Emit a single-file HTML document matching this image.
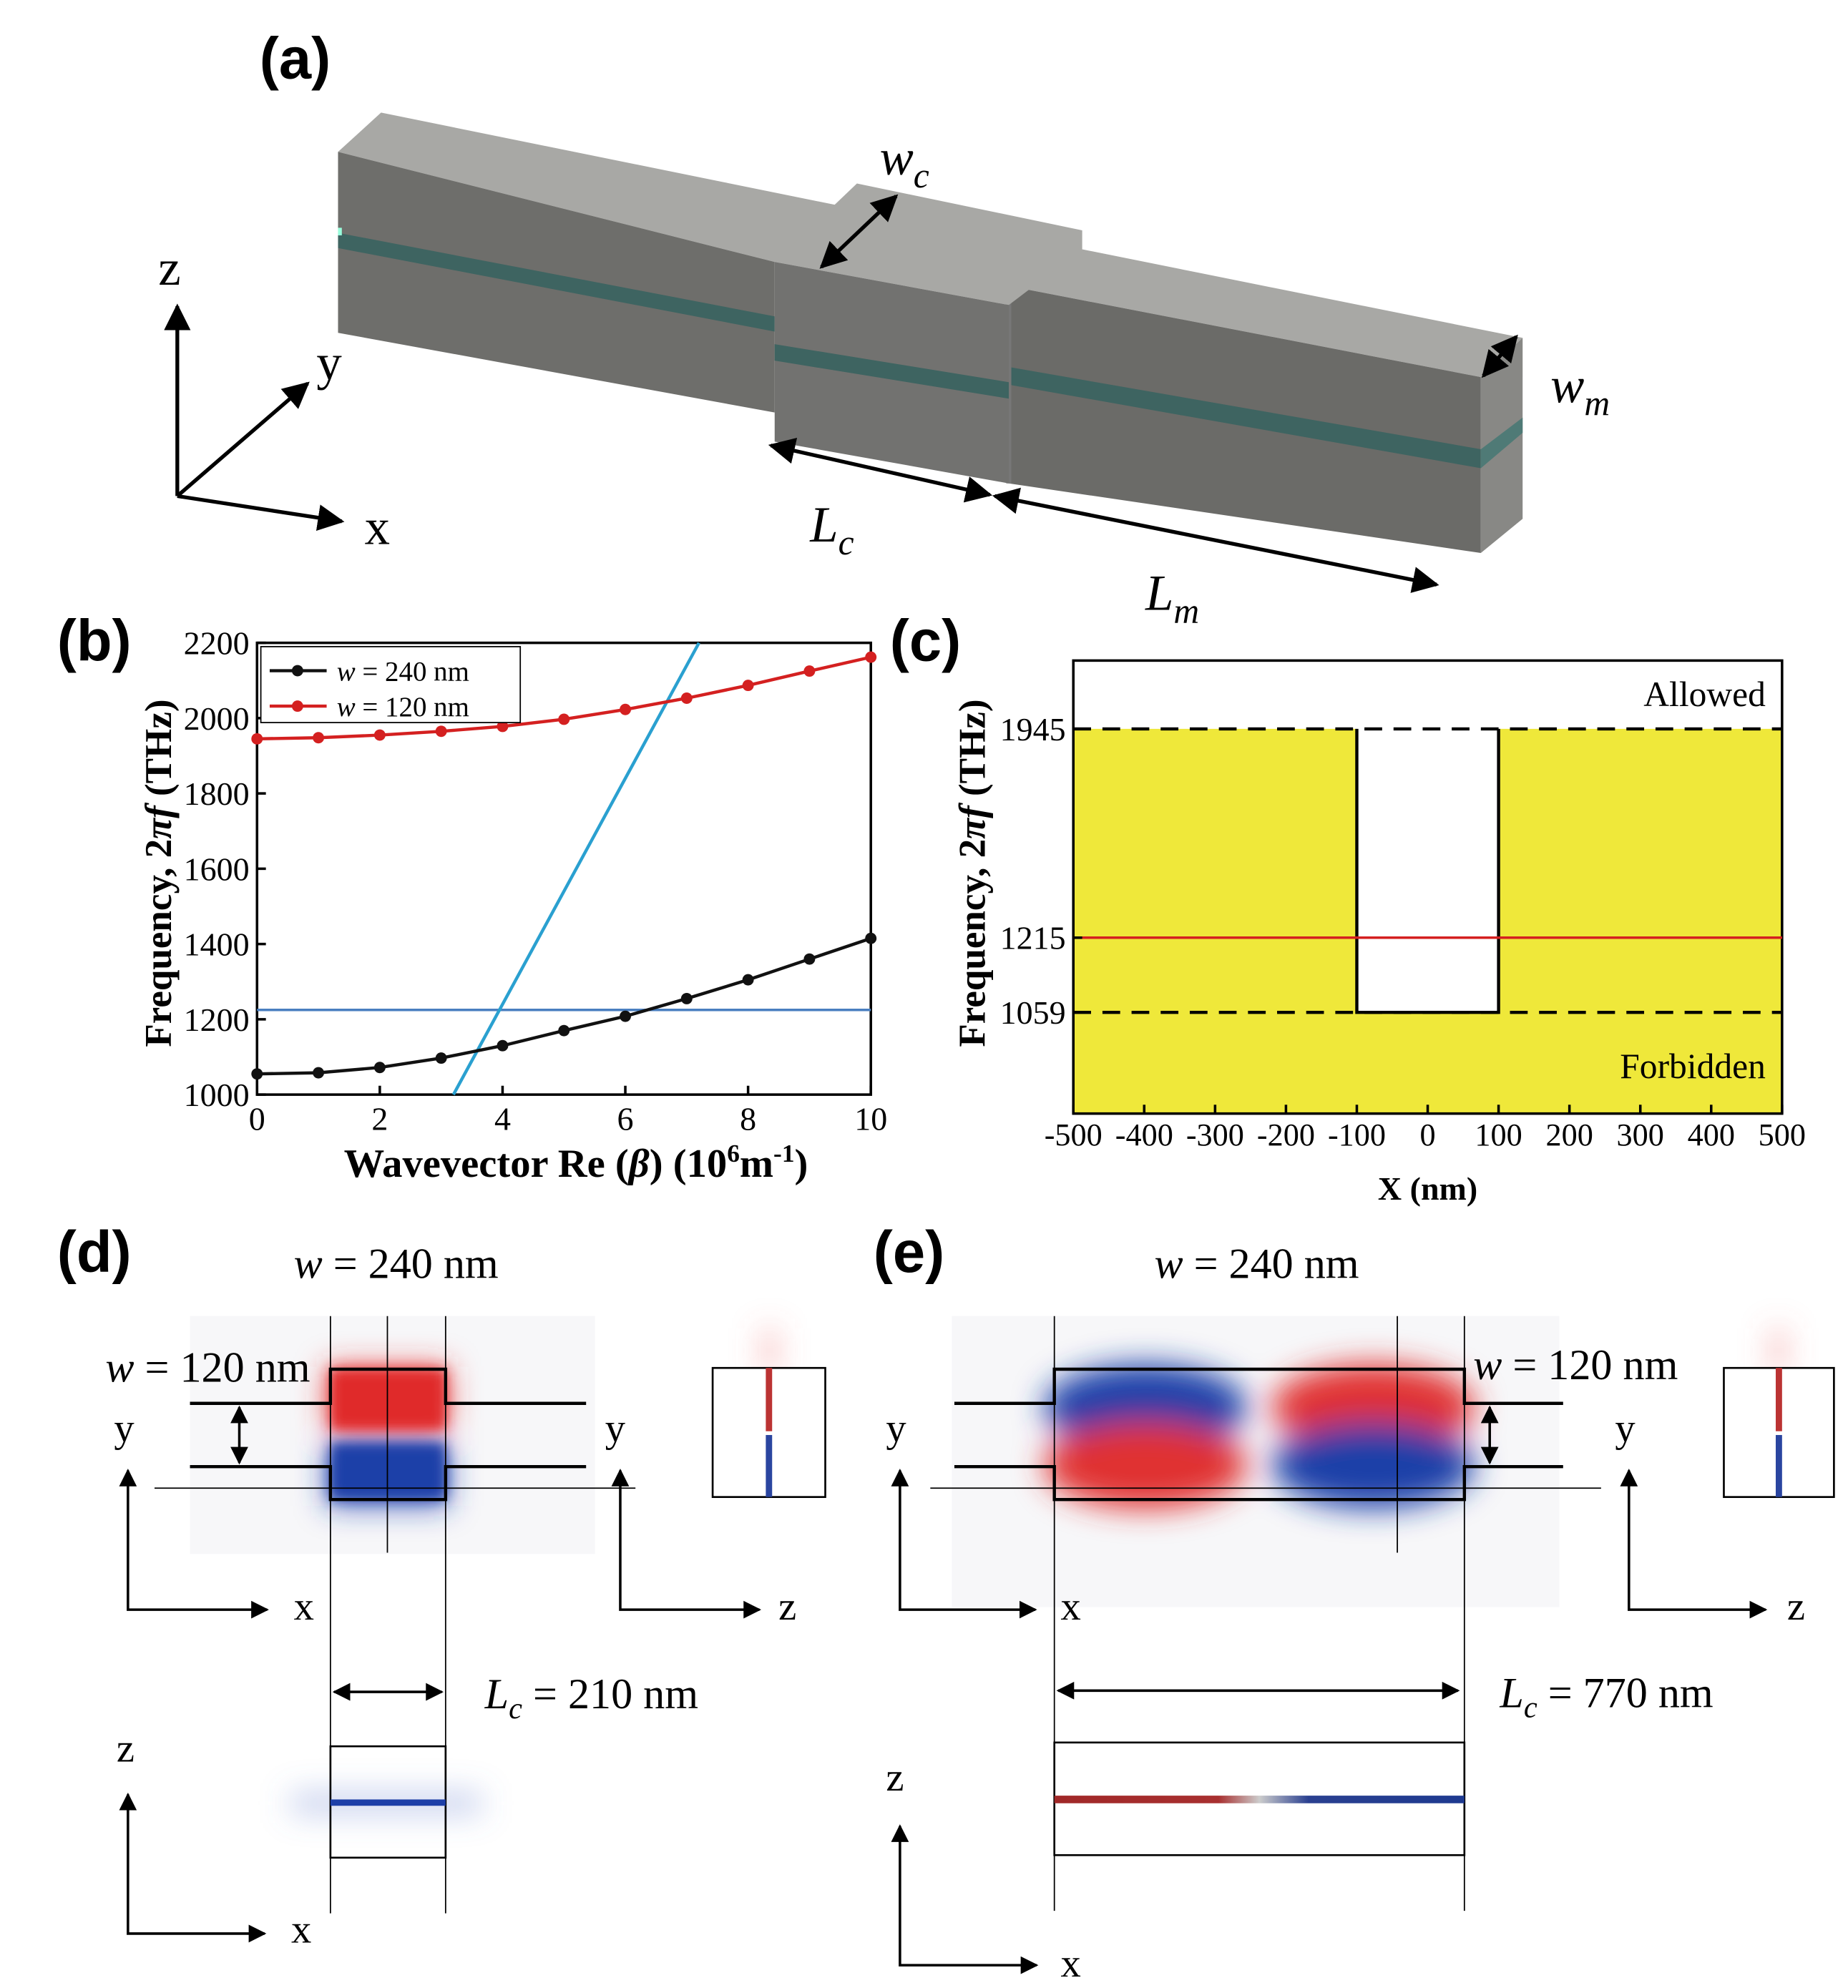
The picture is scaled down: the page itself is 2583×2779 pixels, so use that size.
<!DOCTYPE html>
<html><head><meta charset="utf-8"><style>
html,body{margin:0;padding:0;background:#fff}
svg{display:block}
text{font-family:"Liberation Serif",serif}
.b{font-family:"Liberation Sans",sans-serif;font-weight:bold}
</style></head><body>
<svg id="s" width="2583" height="2779" viewBox="0 0 1460 1571" xmlns="http://www.w3.org/2000/svg">
<defs>
<filter id="bl" x="-50%" y="-50%" width="200%" height="200%"><feGaussianBlur stdDeviation="12"/></filter>
<filter id="bl2" x="-50%" y="-50%" width="200%" height="200%"><feGaussianBlur stdDeviation="5"/></filter>
<marker id="ah" viewBox="0 0 10 10" refX="9" refY="5" markerWidth="7" markerHeight="7" orient="auto-start-reverse"><path d="M0,0L10,5L0,10z" fill="#000"/></marker>
<linearGradient id="rb" x1="0" x2="1"><stop offset="0" stop-color="#a02828"/><stop offset="0.4" stop-color="#a83030"/><stop offset="0.5" stop-color="#ccc"/><stop offset="0.62" stop-color="#2a4090"/><stop offset="1" stop-color="#1e3a90"/></linearGradient>
</defs>

<!-- Panel a -->
<g>
<text x="205" y="62" class="b" font-size="46">(a)</text>
<g>
<polygon points="267,120 301,89 690,168 612,207" fill="#a8a8a5"/>
<polygon points="267,120 612,207 612,326 267,263" fill="#6e6e6b"/>
<polygon points="267,184 612,250 612,262 267,196" fill="#3e6461"/>
<polygon points="267,180 270,180 270,186 267,186" fill="#9fd"/>
</g>
<g>
<polygon points="797,226 855,197 1203,267 1170,298" fill="#a8a8a5"/>
<polygon points="797,226 1170,298 1170,437 797,382" fill="#6b6b68"/>
<polygon points="797,290 1170,355 1170,370 797,304" fill="#3e6461"/>
<polygon points="1170,298 1203,267 1203,410 1170,437" fill="#888885"/>
<polygon points="1170,355 1203,330 1203,342 1170,370" fill="#4f7a76"/>
<line x1="797" y1="226" x2="797" y2="382" stroke="#777" stroke-width="4"/>
</g>
<g>
<polygon points="612,207 677,145 855,182 855,197 797,241" fill="#a8a8a5"/>
<polygon points="612,207 797,241 797,382 612,349" fill="#727270"/>
<polygon points="612,272 797,302 797,315 612,285" fill="#3e6461"/>
</g>
<g stroke="#000" stroke-width="3" fill="none">
<line x1="140" y1="392" x2="140" y2="242" marker-end="url(#ah)"/>
<line x1="140" y1="392" x2="270" y2="412" marker-end="url(#ah)"/>
<line x1="140" y1="392" x2="243" y2="303" marker-end="url(#ah)"/>
<line x1="649" y1="211" x2="708" y2="155" marker-end="url(#ah)" marker-start="url(#ah)"/>
<line x1="1172" y1="297" x2="1198" y2="266" marker-end="url(#ah)" marker-start="url(#ah)"/>
<line x1="609" y1="352" x2="782" y2="391" marker-end="url(#ah)" marker-start="url(#ah)"/>
<line x1="786" y1="392" x2="1135" y2="462" marker-end="url(#ah)" marker-start="url(#ah)"/>
</g>
<text x="125" y="225" font-size="40">z</text>
<text x="250" y="300" font-size="40">y</text>
<text x="288" y="430" font-size="40">x</text>
<text x="695" y="138" font-size="40" font-style="italic">w<tspan font-size="28" dy="10">c</tspan></text>
<text x="1225" y="318" font-size="40" font-style="italic">w<tspan font-size="28" dy="10">m</tspan></text>
<text x="640" y="428" font-size="40" font-style="italic">L<tspan font-size="28" dy="10">c</tspan></text>
<text x="905" y="482" font-size="40" font-style="italic">L<tspan font-size="28" dy="10">m</tspan></text>
</g>

<g id="pb"></g>
<g id="pc"></g>

<!-- Panel d -->
<g>
<text x="45" y="1005" class="b" font-size="46">(d)</text>
<text x="232" y="1010" font-size="34"><tspan font-style="italic">w</tspan> = 240 nm</text>
<rect x="150" y="1040" width="320" height="188" fill="#f7f7f9"/>
<g filter="url(#bl)">
<rect x="258" y="1080" width="96" height="48" fill="#e83030" opacity="0.8"/>
<rect x="258" y="1142" width="96" height="48" fill="#2040b0" opacity="0.8"/>
<rect x="603" y="1050" width="10" height="35" fill="#e66" opacity="0.5"/>
<rect x="230" y="1417" width="150" height="16" fill="#6a80d0" opacity="0.4"/>
</g>
<rect x="261" y="1082" width="91" height="48" fill="#e02a2a" filter="url(#bl2)"/>
<rect x="261" y="1140" width="91" height="45" fill="#1e3fa8" filter="url(#bl2)"/>
<g stroke="#000" fill="none" stroke-width="2.5">
<polyline points="150,1109 261,1109 261,1082 352,1082 352,1109 463,1109"/>
<polyline points="150,1159 261,1159 261,1185 352,1185 352,1159 463,1159"/>
</g>
<g stroke="#000" stroke-width="1">
<line x1="261" y1="1040" x2="261" y2="1512"/><line x1="352" y1="1040" x2="352" y2="1512"/>
<line x1="306" y1="1040" x2="306" y2="1227"/><line x1="122" y1="1176" x2="502" y2="1176"/>
</g>
<line x1="189" y1="1112" x2="189" y2="1156" stroke="#000" stroke-width="2" marker-start="url(#ah)" marker-end="url(#ah)"/>
<text x="245" y="1092" font-size="34" text-anchor="end"><tspan font-style="italic">w</tspan> = 120 nm</text>
<rect x="563" y="1081" width="89" height="102" fill="#fff" stroke="#000" stroke-width="1.5"/>
<rect x="605" y="1081" width="5" height="50" fill="#b33"/><rect x="605" y="1134" width="5" height="49" fill="#2a45a0"/>
<g stroke="#000" stroke-width="2" fill="none">
<polyline points="101,1162 101,1272 211,1272" marker-start="url(#ah)" marker-end="url(#ah)"/>
<polyline points="490,1162 490,1272 600,1272" marker-start="url(#ah)" marker-end="url(#ah)"/>
<polyline points="101,1418 101,1528 209,1528" marker-start="url(#ah)" marker-end="url(#ah)"/>
<line x1="264" y1="1337" x2="349" y2="1337" marker-start="url(#ah)" marker-end="url(#ah)"/>
</g>
<text x="90" y="1139" font-size="32">y</text><text x="232" y="1280" font-size="32">x</text>
<text x="478" y="1139" font-size="32">y</text><text x="615" y="1280" font-size="32">z</text>
<text x="92" y="1392" font-size="32">z</text><text x="230" y="1535" font-size="32">x</text>
<text x="383" y="1350" font-size="34"><tspan font-style="italic">L<tspan font-size="24" dy="8">c</tspan></tspan><tspan dy="-8"> = 210 nm</tspan></text>
<rect x="261" y="1380" width="91" height="88" fill="none" stroke="#000" stroke-width="1.5"/>
<rect x="261" y="1422" width="91" height="5" fill="#1e3fa8"/>
</g>

<!-- Panel e -->
<g>
<text x="690" y="1005" class="b" font-size="46">(e)</text>
<text x="912" y="1010" font-size="34"><tspan font-style="italic">w</tspan> = 240 nm</text>
<rect x="752" y="1040" width="480" height="230" fill="#f7f7f9"/>
<g filter="url(#bl)">
<ellipse cx="905" cy="1112" rx="80" ry="34" fill="#1e3fa8"/>
<ellipse cx="1085" cy="1112" rx="80" ry="34" fill="#e03030"/>
<ellipse cx="905" cy="1158" rx="80" ry="34" fill="#e03030"/>
<ellipse cx="1085" cy="1158" rx="80" ry="34" fill="#1e3fa8"/>
<rect x="1400" y="1050" width="10" height="35" fill="#e66" opacity="0.5"/>
</g>
<g stroke="#000" fill="none" stroke-width="2.5">
<polyline points="754,1109 833,1109 833,1082 1157,1082 1157,1109 1235,1109"/>
<polyline points="754,1159 833,1159 833,1185 1157,1185 1157,1159 1235,1159"/>
</g>
<g stroke="#000" stroke-width="1">
<line x1="833" y1="1040" x2="833" y2="1510"/><line x1="1157" y1="1040" x2="1157" y2="1510"/>
<line x1="1104" y1="1040" x2="1104" y2="1227"/><line x1="735" y1="1176" x2="1265" y2="1176"/>
</g>
<line x1="1177" y1="1112" x2="1177" y2="1156" stroke="#000" stroke-width="2" marker-start="url(#ah)" marker-end="url(#ah)"/>
<text x="1164" y="1090" font-size="34"><tspan font-style="italic">w</tspan> = 120 nm</text>
<rect x="1362" y="1081" width="87" height="102" fill="#fff" stroke="#000" stroke-width="1.5"/>
<rect x="1403" y="1081" width="5" height="50" fill="#b33"/><rect x="1403" y="1134" width="5" height="49" fill="#2a45a0"/>
<g stroke="#000" stroke-width="2" fill="none">
<polyline points="711,1162 711,1272 818,1272" marker-start="url(#ah)" marker-end="url(#ah)"/>
<polyline points="1287,1162 1287,1272 1395,1272" marker-start="url(#ah)" marker-end="url(#ah)"/>
<polyline points="711,1443 711,1553 819,1553" marker-start="url(#ah)" marker-end="url(#ah)"/>
<line x1="836" y1="1336" x2="1152" y2="1336" marker-start="url(#ah)" marker-end="url(#ah)"/>
</g>
<text x="700" y="1139" font-size="32">y</text><text x="838" y="1280" font-size="32">x</text>
<text x="1276" y="1139" font-size="32">y</text><text x="1412" y="1280" font-size="32">z</text>
<text x="700" y="1415" font-size="32">z</text><text x="838" y="1562" font-size="32">x</text>
<text x="1185" y="1349" font-size="34"><tspan font-style="italic">L<tspan font-size="24" dy="8">c</tspan></tspan><tspan dy="-8"> = 770 nm</tspan></text>
<rect x="833" y="1377" width="324" height="89" fill="none" stroke="#000" stroke-width="1.5"/>
<rect x="833" y="1419" width="324" height="6" fill="url(#rb)"/>
</g>
</svg>
<script>
const NS="http://www.w3.org/2000/svg";
// chart b data
const bX=[0,1,2,3,4,5,6,7,8,9,10];
const bBlack=[1055,1058,1072,1097,1130,1170,1208,1255,1305,1360,1415];
const bRed=[1945,1948,1955,1965,1978,1997,2023,2053,2087,2125,2162];
const bBlue=1225;
const bLight=[[3.2,1000],[7.2,2200]];
const bXTicks=[0,2,4,6,8,10];
const bYTicks=[1000,1200,1400,1600,1800,2000,2200];
// chart c data
const cYTicks=[1059,1215,1945];
const cXTicks=[-500,-400,-300,-200,-100,0,100,200,300,400,500];
const cUpper=1945, cLower=1059, cRed=1215, cNotch=[-100,100];

function mk(p,t,a,txt){const e=document.createElementNS(NS,t);for(const k in a)e.setAttribute(k,a[k]);if(txt!==undefined)e.textContent=txt;p.appendChild(e);return e;}
// panel b
const pb=document.getElementById('pb');
const bx=v=>203+(v-0)/10*485, by=v=>865-(v-1000)/1200*357;
let t=mk(pb,'text',{x:45,y:522,'font-size':46,class:'b'},'(b)');


mk(pb,'rect',{x:203,y:508,width:485,height:357,fill:'none',stroke:'#000','stroke-width':2});
bXTicks.forEach(v=>{mk(pb,'line',{x1:bx(v),x2:bx(v),y1:865,y2:858,stroke:'#000','stroke-width':2});
 const e=mk(pb,'text',{x:bx(v),y:893,'font-size':26,'text-anchor':'middle'},v);
 
 });
bYTicks.forEach(v=>{mk(pb,'line',{x1:203,x2:210,y1:by(v),y2:by(v),stroke:'#000','stroke-width':2});
 const e=mk(pb,'text',{x:197,y:by(v)+9,'font-size':26,'text-anchor':'end'},v);
 
 });
let hl=mk(pb,'line',{x1:203,x2:688,y1:by(bBlue),y2:by(bBlue),stroke:'#4a7fc0','stroke-width':2});


let ll=mk(pb,'line',{x1:bx(bLight[0][0]),y1:by(bLight[0][1]),x2:bx(bLight[1][0]),y2:by(bLight[1][1]),stroke:'#2aa0d0','stroke-width':2.5});


[[bBlack,'#111','series-w240'],[bRed,'#d42020','series-w120']].forEach(([ys,c,n])=>{
 const pl=mk(pb,'polyline',{points:bX.map((x,i)=>bx(x)+','+by(ys[i])).join(' '),fill:'none',stroke:c,'stroke-width':2.5});
 
 
 bX.forEach((x,i)=>{const d=mk(pb,'circle',{cx:bx(x),cy:by(ys[i]),r:4.5,fill:c});
 
 });
});
const lg=mk(pb,'g',{});


mk(lg,'rect',{x:206,y:511,width:205,height:60,fill:'#fff',stroke:'#000','stroke-width':1});
[['#111','240',530],['#d42020','120',558]].forEach(([c,w,y])=>{mk(lg,'line',{x1:213,x2:258,y1:y,y2:y,stroke:c,'stroke-width':2.5});mk(lg,'circle',{cx:235,cy:y,r:4.5,fill:c});
 const e=mk(lg,'text',{x:266,y:y+8,'font-size':22});e.innerHTML='<tspan font-style="italic">w</tspan> = '+w+' nm';});
t=mk(pb,'text',{x:0,y:0,'font-size':30,transform:'translate(135,690) rotate(-90)','text-anchor':'middle',style:'font-weight:bold'});
t.innerHTML='Frequency, 2<tspan font-style="italic">πf</tspan> (THz)';


t=mk(pb,'text',{x:455,y:930,'font-size':32,'text-anchor':'middle',style:'font-weight:bold'});
t.innerHTML='Wavevector Re (<tspan font-style="italic">β</tspan>) (10<tspan font-size="20" dy="-12">6</tspan><tspan dy="12">m</tspan><tspan font-size="20" dy="-12">-1</tspan><tspan dy="12">)</tspan>';


// panel c
const pc=document.getElementById('pc');
const cx=v=>848+(v+500)/1000*560;
const cy=v=>v>=cRed?741-(v-cRed)/(cUpper-cRed)*165:800-(v-cLower)/(cRed-cLower)*59;
t=mk(pc,'text',{x:703,y:522,'font-size':46,class:'b'},'(c)');


let yf=mk(pc,'path',{d:`M${cx(-500)},${cy(cUpper)}H${cx(cNotch[0])}V${cy(cLower)}H${cx(cNotch[1])}V${cy(cUpper)}H${cx(500)}V880H${cx(-500)}Z`,fill:'#efe83a'});


mk(pc,'path',{d:`M${cx(cNotch[0])},${cy(cUpper)}V${cy(cLower)}H${cx(cNotch[1])}V${cy(cUpper)}`,fill:'none',stroke:'#000','stroke-width':2.5});
mk(pc,'rect',{x:848,y:522,width:560,height:358,fill:'none',stroke:'#000','stroke-width':2});
[cUpper,cLower].forEach(v=>{const l=mk(pc,'line',{x1:848,x2:1408,y1:cy(v),y2:cy(v),stroke:'#000','stroke-width':2.5,'stroke-dasharray':'14,9'});
 
 });
let rl=mk(pc,'line',{x1:848,x2:1408,y1:cy(cRed),y2:cy(cRed),stroke:'#d42020','stroke-width':2});


cYTicks.forEach(v=>{mk(pc,'line',{x1:848,x2:855,y1:cy(v),y2:cy(v),stroke:'#000','stroke-width':2});
 const e=mk(pc,'text',{x:842,y:cy(v)+9,'font-size':26,'text-anchor':'end'},v);
 
 });
cXTicks.forEach(v=>{mk(pc,'line',{x1:cx(v),x2:cx(v),y1:880,y2:873,stroke:'#000','stroke-width':2});
 const e=mk(pc,'text',{x:cx(v),y:905,'font-size':25,'text-anchor':'middle'},v);
 
 });
mk(pc,'text',{x:1395,y:558,'font-size':28,'text-anchor':'end'},'Allowed');
mk(pc,'text',{x:1395,y:852,'font-size':28,'text-anchor':'end'},'Forbidden');
t=mk(pc,'text',{x:0,y:0,'font-size':30,transform:'translate(778,690) rotate(-90)','text-anchor':'middle',style:'font-weight:bold'});
t.innerHTML='Frequency, 2<tspan font-style="italic">πf</tspan> (THz)';


t=mk(pc,'text',{x:1128,y:948,'font-size':26,'text-anchor':'middle',style:'font-weight:bold'},'X (nm)');


</script>
</body></html>
